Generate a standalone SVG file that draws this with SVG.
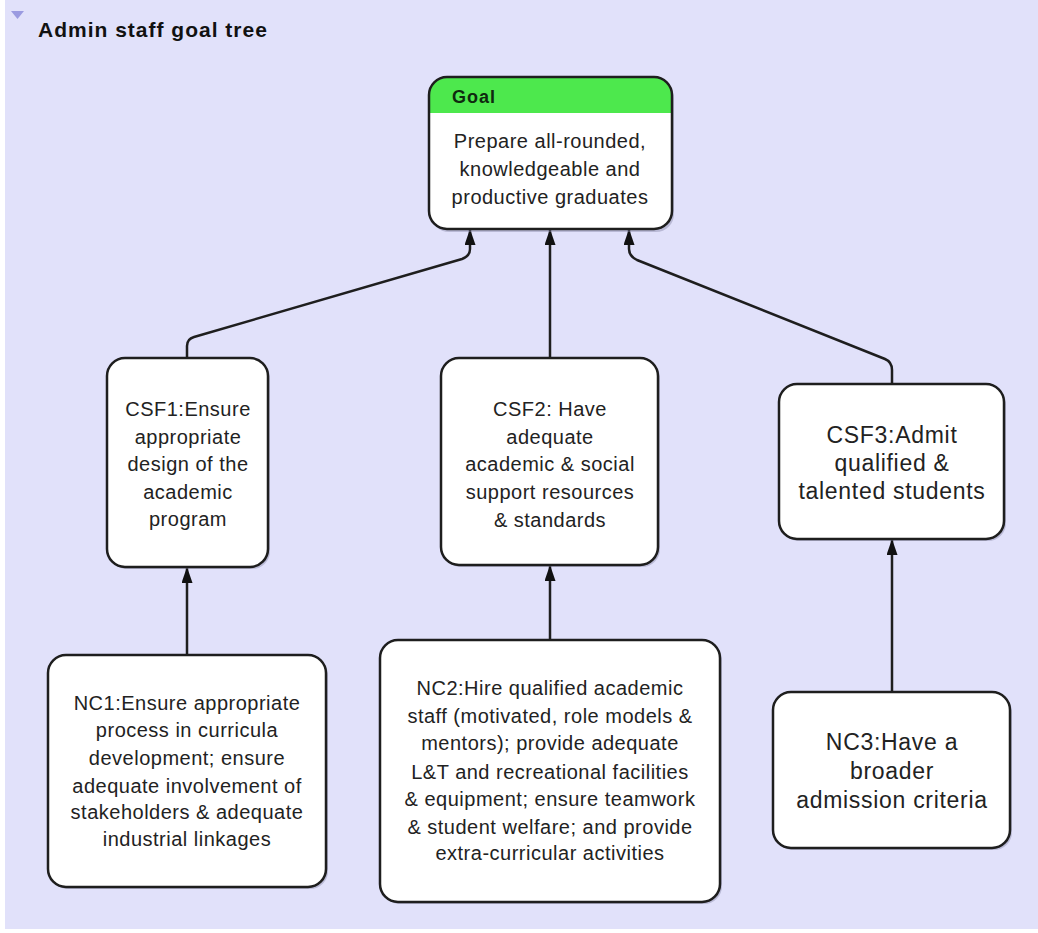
<svg xmlns="http://www.w3.org/2000/svg" width="1038" height="933" viewBox="0 0 1038 933">
  <style>
    .node { fill: #ffffff; stroke: #1e1e1e; stroke-width: 2.5; }
    .shadow { fill: #8a8aa8; opacity: 0.45; }
    .txt { font-family: "Liberation Sans", Arial, sans-serif; font-size: 20px; letter-spacing: 0.5px; fill: #222222; text-anchor: middle; }
    .big { font-size: 23px; letter-spacing: 0.7px; }
    .edge { fill: none; stroke: #1e1e1e; stroke-width: 2.5; stroke-linejoin: round; }
    .title { font-family: "Liberation Sans", Arial, sans-serif; font-size: 21px; font-weight: bold; letter-spacing: 1px; fill: #111111; }
  </style>
  <defs>
    <marker id="arrow" markerUnits="userSpaceOnUse" viewBox="0 0 16 11" refX="15" refY="5.5" markerWidth="16" markerHeight="11" orient="auto">
      <path d="M0,0 L16,5.5 L0,11 z" fill="#111111"/>
    </marker>
    <clipPath id="goalClip">
      <rect x="429" y="77" width="243" height="152" rx="18" ry="18"/>
    </clipPath>
  </defs>

  <!-- canvas -->
  <rect x="0" y="0" width="1038" height="933" fill="#ffffff"/>
  <rect x="5" y="0" width="1033" height="929" fill="#e1e1fa"/>

  <!-- header -->
  <polygon points="11,11 24,11 17.5,19" fill="#9a9ae0"/>
  <text class="title" x="38" y="37">Admin staff goal tree</text>

  <!-- connectors -->
  <g id="connectors">
    <path class="edge" d="M187,358 V346 Q187,339 194,337 L462,259 Q470,256 470,249 V230" marker-end="url(#arrow)"/>
    <path class="edge" d="M550,358 V230" marker-end="url(#arrow)"/>
    <path class="edge" d="M892,384 V370 Q892,362 885,359 L637,260 Q629,256 629,249 V230" marker-end="url(#arrow)"/>
    <path class="edge" d="M187,655 V568" marker-end="url(#arrow)"/>
    <path class="edge" d="M550,640 V566" marker-end="url(#arrow)"/>
    <path class="edge" d="M892,692 V540" marker-end="url(#arrow)"/>
  </g>

  <!-- goal -->
  <g id="goal">
    <rect class="shadow" x="431" y="80" width="243" height="152" rx="18"/>
    <rect x="429" y="77" width="243" height="152" rx="18" fill="#ffffff"/>
    <rect x="429" y="77" width="243" height="36" fill="#4de84d" clip-path="url(#goalClip)"/>
    <rect class="node" x="429" y="77" width="243" height="152" rx="18" style="fill:none"/>
    <text x="452" y="103" font-family="Liberation Sans, Arial, sans-serif" font-size="18" font-weight="bold" letter-spacing="1" fill="#0f2a0f">Goal</text>
    <text class="txt" x="550" y="148">Prepare all-rounded,</text>
    <text class="txt" x="550" y="176">knowledgeable and</text>
    <text class="txt" x="550" y="204">productive graduates</text>
  </g>

  <!-- critical success factors -->
  <g id="csf1">
    <rect class="shadow" x="109" y="360" width="161" height="209" rx="18"/>
    <rect class="node" x="107" y="358" width="161" height="209" rx="18"/>
    <text class="txt" x="188" y="416">CSF1:Ensure</text>
    <text class="txt" x="188" y="444">appropriate</text>
    <text class="txt" x="188" y="471">design of the</text>
    <text class="txt" x="188" y="499">academic</text>
    <text class="txt" x="188" y="526">program</text>
  </g>

  <g id="csf2">
    <rect class="shadow" x="443" y="360" width="217" height="207" rx="18"/>
    <rect class="node" x="441" y="358" width="217" height="207" rx="18"/>
    <text class="txt" x="550" y="416">CSF2: Have</text>
    <text class="txt" x="550" y="444">adequate</text>
    <text class="txt" x="550" y="471">academic &amp; social</text>
    <text class="txt" x="550" y="499">support resources</text>
    <text class="txt" x="550" y="527">&amp; standards</text>
  </g>

  <g id="csf3">
    <rect class="shadow" x="781" y="386" width="225" height="155" rx="18"/>
    <rect class="node" x="779" y="384" width="225" height="155" rx="18"/>
    <text class="txt big" x="892" y="443">CSF3:Admit</text>
    <text class="txt big" x="892" y="471">qualified &amp;</text>
    <text class="txt big" x="892" y="499">talented students</text>
  </g>

  <!-- necessary conditions -->
  <g id="nc1">
    <rect class="shadow" x="50" y="657" width="278" height="232" rx="18"/>
    <rect class="node" x="48" y="655" width="278" height="232" rx="18"/>
    <text class="txt" x="187" y="710">NC1:Ensure appropriate</text>
    <text class="txt" x="187" y="737">process in curricula</text>
    <text class="txt" x="187" y="765">development; ensure</text>
    <text class="txt" x="187" y="793">adequate involvement of</text>
    <text class="txt" x="187" y="819">stakeholders &amp; adequate</text>
    <text class="txt" x="187" y="846">industrial linkages</text>
  </g>

  <g id="nc2">
    <rect class="shadow" x="382" y="642" width="340" height="262" rx="18"/>
    <rect class="node" x="380" y="640" width="340" height="262" rx="18"/>
    <text class="txt" x="550" y="695">NC2:Hire qualified academic</text>
    <text class="txt" x="550" y="723">staff (motivated, role models &amp;</text>
    <text class="txt" x="550" y="750">mentors); provide adequate</text>
    <text class="txt" x="550" y="779">L&amp;T and recreational facilities</text>
    <text class="txt" x="550" y="806">&amp; equipment; ensure teamwork</text>
    <text class="txt" x="550" y="834">&amp; student welfare; and provide</text>
    <text class="txt" x="550" y="860">extra-curricular activities</text>
  </g>

  <g id="nc3">
    <rect class="shadow" x="775" y="694" width="237" height="156" rx="18"/>
    <rect class="node" x="773" y="692" width="237" height="156" rx="18"/>
    <text class="txt big" x="892" y="750">NC3:Have a</text>
    <text class="txt big" x="892" y="779">broader</text>
    <text class="txt big" x="892" y="808">admission criteria</text>
  </g>
</svg>
